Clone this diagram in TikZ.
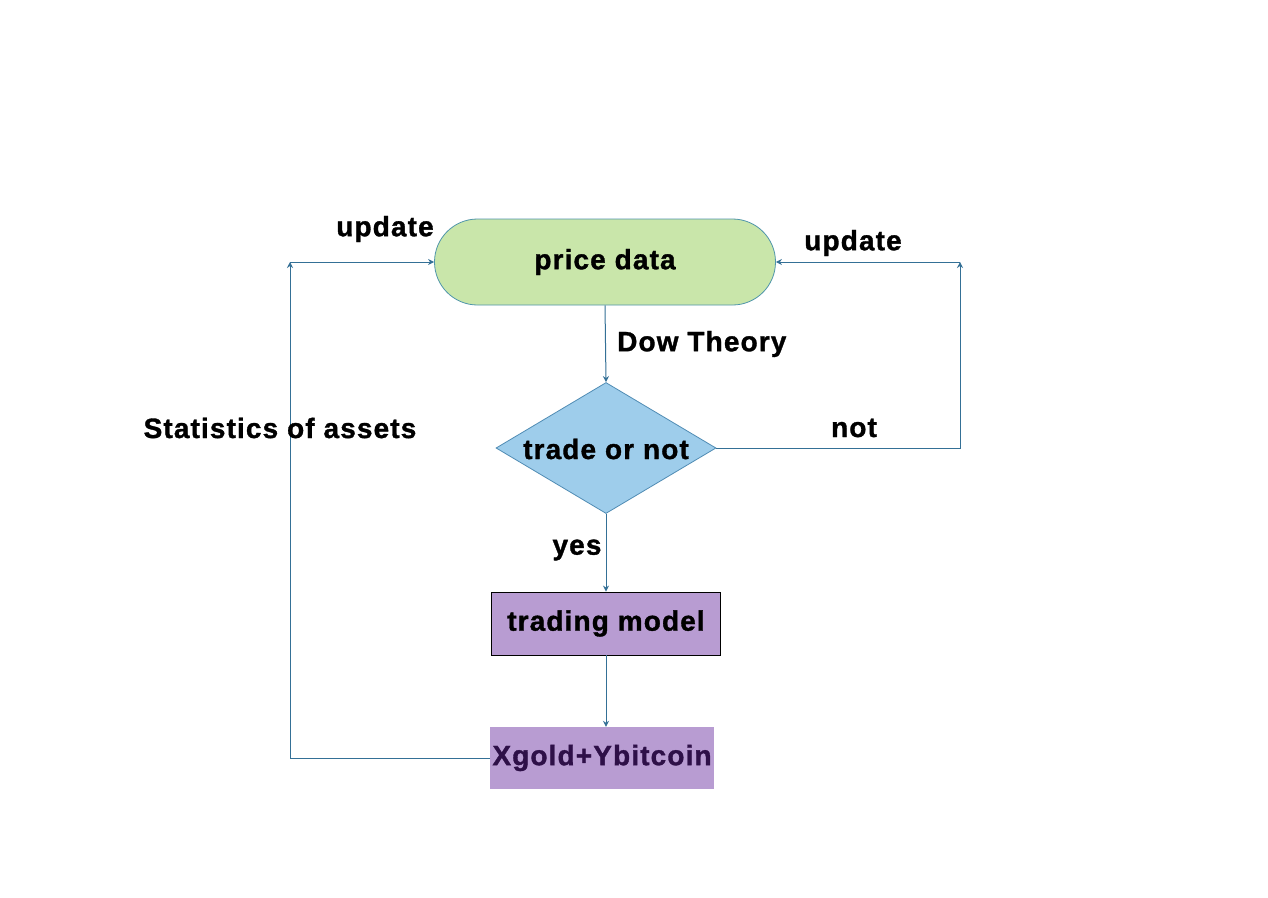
\documentclass[tikz,border=0pt]{standalone}
\usepackage{fontspec}
\setmainfont{Liberation Sans}
\newfontfamily\lblfont[LetterSpace=4.0,BoldFeatures={FakeBold=1.2}]{Liberation Sans}
\usetikzlibrary{shapes.geometric,shapes.misc,arrows.meta}
\definecolor{lnc}{RGB}{52,112,150}
\definecolor{grnf}{RGB}{201,230,170}
\definecolor{grnd}{RGB}{80,150,170}
\definecolor{bluf}{RGB}{158,205,235}
\definecolor{blud}{RGB}{80,140,180}
\definecolor{purf}{RGB}{184,156,210}
\definecolor{purt}{RGB}{46,16,72}
\tikzset{
  lbl/.style={font=\lblfont\fontsize{28}{32}\selectfont\bfseries, inner sep=0pt},
  conn/.style={draw=lnc, line width=1pt, -{Stealth[length=6pt,width=6pt]}},
}
\begin{document}
\begin{tikzpicture}[x=1pt,y=-1pt]
\useasboundingbox (0,0) rectangle (1268,897);
\fill[white] (0,0) rectangle (1268,897);
\node[lbl, draw=grnd, fill=grnf, line width=0.8pt, rounded rectangle, minimum width=341pt, minimum height=86pt] (price) at (605,262) {price data};
\node[lbl, diamond, draw=blud, fill=bluf, line width=0.8pt, minimum width=220pt, minimum height=131pt, aspect=1.68] (dec) at (606,448) {\phantom{x}};
\node[lbl] (dectext) at (606,449) {trade or not};
\node[lbl, draw=black, fill=purf, line width=0.8pt, minimum width=229pt, minimum height=63pt] (model) at (606,623.5) {trading model};
\node[lbl, fill=purf, text=purt, minimum width=224pt, minimum height=62pt] (res) at (602,758) {Xgold+Ybitcoin};
\coordinate (L) at (290,262);
\coordinate (R) at (960,262);
\draw[conn] (price.south) -- (dec.north);
\draw[conn] (dec.south) -- (dec.south |- model.north);
\draw[conn] (model.south) -- (model.south |- res.north);
\draw[conn] (res.west) -| (L);
\draw[conn] (L) -- (price.west);
\draw[conn] (dec.east) -| (R);
\draw[conn] (R) -- (price.east);
\node[lbl] (up1) at (385,229) {update};
\node[lbl] (up2) at (853,243) {update};
\node[lbl, anchor=west] (dow) at (617,344) {Dow Theory};
\node[lbl] (stat) at (280,428) {Statistics of assets};
\node[lbl] (no) at (854,428) {not};
\node[lbl] (yes) at (577,550) {yes};
\end{tikzpicture}
\end{document}
